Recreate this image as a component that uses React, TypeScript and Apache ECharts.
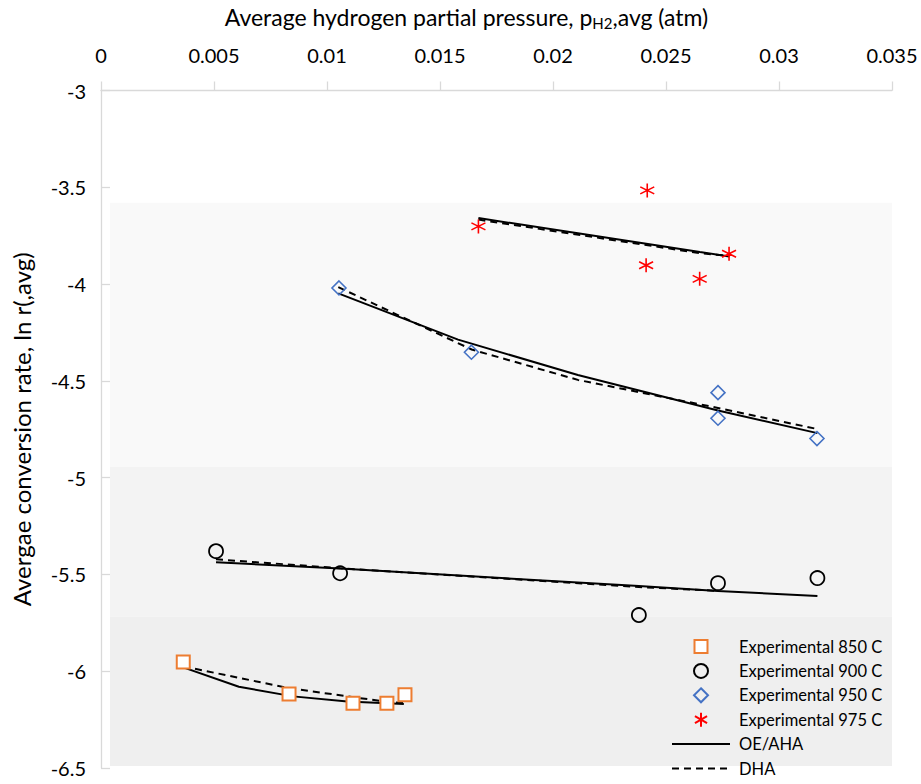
import React, { useEffect, useRef } from "react";
import * as echarts from "echarts";

// Experimental points [pH2,avg (atm), ln r(avg)]
const exp850 = [[0.00364, -5.953], [0.00832, -6.118], [0.01115, -6.165], [0.01265, -6.165], [0.01345, -6.122]];
const exp900 = [[0.00509, -5.38], [0.01058, -5.494], [0.0238, -5.71], [0.0273, -5.545], [0.0317, -5.519]];
const exp950 = [[0.01053, -4.02], [0.01639, -4.352], [0.0273, -4.561], [0.0273, -4.693], [0.03168, -4.798]];
const exp975 = [[0.0167, -3.702], [0.02417, -3.516], [0.02412, -3.903], [0.02649, -3.973], [0.02779, -3.843]];

// OE/AHA model curves
const oe850 = [[0.00364, -5.98], [0.0061, -6.08], [0.0085, -6.13], [0.0109, -6.156], [0.0134, -6.17]];
const oe900 = [[0.00509, -5.437], [0.01058, -5.47], [0.0238, -5.56], [0.0273, -5.585], [0.0317, -5.612]];
const oe950 = [[0.0105, -4.048], [0.0158, -4.287], [0.0211, -4.47], [0.0273, -4.653], [0.0317, -4.77]];
const oe975 = [[0.0167, -3.659], [0.0242, -3.793], [0.0265, -3.834], [0.0278, -3.857]];

// DHA model curves
const dha850 = [[0.00364, -5.975], [0.0083, -6.087], [0.0111, -6.133], [0.0127, -6.159], [0.0134, -6.164]];
const dha900 = [[0.00509, -5.422], [0.01058, -5.468], [0.0238, -5.565], [0.0273, -5.585]];
const dha950 = [[0.0105, -4.016], [0.0164, -4.338], [0.0211, -4.495], [0.0273, -4.64], [0.0317, -4.749]];
const dha975 = [[0.0167, -3.667], [0.0242, -3.8], [0.0265, -3.84], [0.0278, -3.855]];

// Background bands [yTop, yBottom]
const bandRanges = [[-3.58, -4.945], [-4.945, -5.717], [-5.717, -6.49]];
const bandColors = ["#f9f9f9", "#f3f3f3", "#efefef"];
const bandX = [0.0004, 0.035];

const legendNames = [
  "Experimental 850 C",
  "Experimental 900 C",
  "Experimental 950 C",
  "Experimental 975 C",
  "OE/AHA",
  "DHA",
];

const FONT = "Lato, 'Open Sans', sans-serif";
const STAR = "path://M10,0L10,20M1.34,5L18.66,15M1.34,15L18.66,5";

// legend icons: 58x14 box with a centred 14px symbol
const BOX = "M-29,-7M29,7";
const ICON_RECT = `path://${BOX}M-6.5,-6.5L6.5,-6.5L6.5,6.5L-6.5,6.5Z`;
const ICON_CIRCLE = `path://${BOX}M7,0A7,7,0,1,1,-7,0A7,7,0,1,1,7,0Z`;
const ICON_DIAMOND = `path://${BOX}M0,-7L7,0L0,7L-7,0Z`;
const ICON_STAR = `path://${BOX}M0,-7L0,7M-6.06,-3.5L6.06,3.5M-6.06,3.5L6.06,-3.5`;
const legendIcons = [ICON_RECT, ICON_CIRCLE, ICON_DIAMOND, ICON_STAR];

export default function App() {
  const ref = useRef<HTMLDivElement>(null);
  useEffect(() => {
    if (!ref.current) return;
    const chart = echarts.init(ref.current, null, { renderer: "svg" });
    const lineSeries = (name: string, data: number[][], dashed: boolean) => ({
      type: "line",
      name,
      data,
      symbol: "none",
      z: 3,
      silent: true,
      lineStyle: { color: "#000", width: 2, type: dashed ? [7, 5] : "solid" },
      itemStyle: { color: "#000" },
    });
    const option: any = {
      animation: false,
      backgroundColor: "#ffffff",
      textStyle: { fontFamily: FONT },
      grid: { left: 101, right: 29, top: 90, bottom: 16, containLabel: false },
      legend: {
        orient: "vertical",
        left: 671,
        top: 638,
        height: 200,
        padding: 0,
        itemWidth: 58,
        itemHeight: 14,
        itemGap: 7.4,
        data: legendNames.map((n, i) =>
          i < 4
            ? { name: n, icon: legendIcons[i] }
            : { name: n, itemStyle: { opacity: 0 } }
        ),
        textStyle: { fontSize: 16.5, lineHeight: 14, color: "#000", fontFamily: FONT, padding: [0, 0, 0, 4] },
      },
      xAxis: {
        type: "value",
        position: "top",
        min: 0,
        max: 0.035,
        interval: 0.005,
        name: "{a|Average hydrogen partial pressure, p}{s|H2}{a|,avg (atm)}",
        nameLocation: "middle",
        nameGap: 60,
        nameTextStyle: {
          padding: [0, 60, 0, 0],
          rich: {
            a: { fontSize: 23, color: "#000", fontFamily: FONT, lineHeight: 28 },
            s: { fontSize: 15, color: "#000", fontFamily: FONT, lineHeight: 28, verticalAlign: "bottom" },
          },
        },
        axisLine: { show: true, lineStyle: { color: "#d9d9d9", width: 1.3 } },
        axisTick: { show: true, inside: false, length: 9, lineStyle: { color: "#d9d9d9", width: 1.3 } },
        axisLabel: { fontSize: 20, color: "#000", margin: 26, fontFamily: FONT },
        splitLine: { show: false },
      },
      yAxis: {
        type: "value",
        min: -6.5,
        max: -3,
        interval: 0.5,
        name: "Avergae conversion rate, ln r(,avg)",
        nameLocation: "middle",
        nameGap: 68,
        nameTextStyle: { fontSize: 24, color: "#000", fontFamily: FONT },
        axisLine: { show: true, lineStyle: { color: "#d9d9d9", width: 1.3 } },
        axisTick: { show: true, inside: true, length: 9, lineStyle: { color: "#d9d9d9", width: 1.3 } },
        axisLabel: { fontSize: 20, color: "#000", margin: 15, fontFamily: FONT },
        splitLine: { show: false },
      },
      series: [
        {
          type: "scatter",
          name: "bands",
          data: [],
          silent: true,
          z: 0,
          markArea: {
            silent: true,
            data: bandRanges.map((r, i) => [
              { coord: [bandX[0], r[0]], itemStyle: { color: bandColors[i] } },
              { coord: [bandX[1], r[1]] },
            ]),
          },
        },
        lineSeries("OE/AHA", oe850, false),
        lineSeries("OE/AHA", oe900, false),
        lineSeries("OE/AHA", oe950, false),
        lineSeries("OE/AHA", oe975, false),
        lineSeries("DHA", dha850, true),
        lineSeries("DHA", dha900, true),
        lineSeries("DHA", dha950, true),
        lineSeries("DHA", dha975, true),
        {
          type: "scatter",
          name: "Experimental 850 C",
          data: exp850,
          symbol: "rect",
          symbolSize: 13,
          z: 4,
          itemStyle: { color: "#ffffff", borderColor: "#ED7D31", borderWidth: 2, opacity: 1 },
        },
        {
          type: "scatter",
          name: "Experimental 900 C",
          data: exp900,
          symbol: "circle",
          symbolSize: 14,
          z: 4,
          itemStyle: { color: "rgba(255,255,255,0)", borderColor: "#000000", borderWidth: 1.8, opacity: 1 },
        },
        {
          type: "scatter",
          name: "Experimental 950 C",
          data: exp950,
          symbol: "diamond",
          symbolSize: 14,
          z: 4,
          itemStyle: { color: "rgba(255,255,255,0)", borderColor: "#4472C4", borderWidth: 1.6, opacity: 1 },
        },
        {
          type: "scatter",
          name: "Experimental 975 C",
          data: exp975,
          symbol: STAR,
          symbolSize: 14,
          z: 4,
          itemStyle: { color: "rgba(255,255,255,0)", borderColor: "#FF0000", borderWidth: 1.6, opacity: 1 },
        },
      ],
    };
    chart.setOption(option);
    return () => chart.dispose();
  }, []);
  return (
    <div
      ref={ref}
      style={{ position: "absolute", left: 0, top: 0, width: 921, height: 784, background: "#fff" }}
    />
  );
}
